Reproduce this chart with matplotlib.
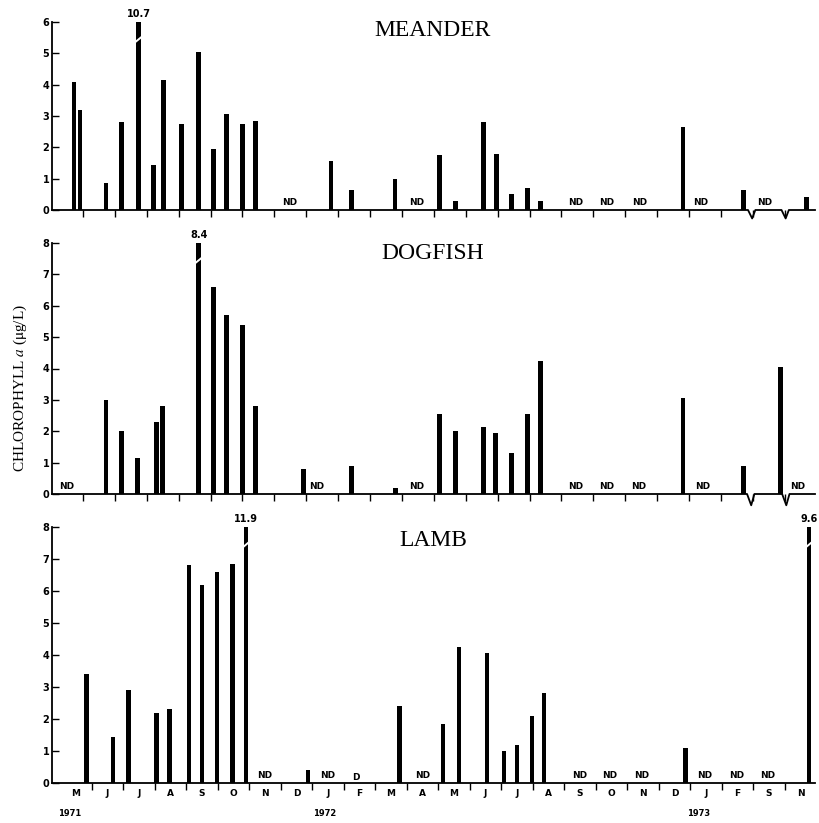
import matplotlib
matplotlib.use("Agg")
import matplotlib.pyplot as plt
from matplotlib import transforms

plt.rcParams["mathtext.fontset"] = "stix"

# ---------------- data (x in months from May 1971; values in ug/L) ----------------
meander_x = [0.72, 0.91, 1.72, 2.22, 2.75, 3.22, 3.53, 4.09, 4.63, 5.09, 5.50, 6.00, 6.41,
             8.78, 9.41, 10.78, 12.19, 12.69, 13.56, 13.97, 14.44, 14.94, 15.34, 19.81, 21.72, 23.69]
meander_y = [4.1, 3.2, 0.85, 2.8, 10.7, 1.45, 4.15, 2.75, 5.05, 1.95, 3.05, 2.75, 2.85,
             1.55, 0.65, 1.0, 1.75, 0.3, 2.8, 1.8, 0.5, 0.7, 0.3, 2.65, 0.65, 0.4]
meander_nd = [7.47, 11.47, 16.44, 17.41, 18.44, 20.38, 22.38]

dogfish_x = [1.72, 2.22, 2.72, 3.31, 3.50, 4.63, 5.09, 5.50, 6.00, 6.41, 7.91, 9.41, 10.81,
             12.19, 12.69, 13.56, 13.94, 14.44, 14.94, 15.34, 19.81, 21.72, 22.88]
dogfish_y = [3.0, 2.0, 1.15, 2.3, 2.8, 8.4, 6.6, 5.7, 5.4, 2.8, 0.8, 0.9, 0.2,
             2.55, 2.0, 2.15, 1.95, 1.3, 2.55, 4.25, 3.05, 0.9, 4.05]
dogfish_nd = [0.5, 8.34, 11.47, 16.44, 17.41, 18.41, 20.44, 23.40]

lamb_x = [0.84, 1.68, 2.16, 3.06, 3.46, 4.09, 4.50, 4.98, 5.48, 5.90, 7.87, 10.76,
          12.15, 12.66, 13.55, 14.09, 14.50, 14.98, 15.36, 19.86, 23.77]
lamb_y = [3.4, 1.45, 2.9, 2.2, 2.3, 6.8, 6.2, 6.6, 6.85, 11.9, 0.4, 2.4,
          1.85, 4.25, 4.05, 1.0, 1.2, 2.1, 2.8, 1.1, 9.6]
lamb_nd = [6.5, 8.5, 11.52, 16.5, 17.45, 18.46, 20.47, 21.48, 22.47]
lamb_d = [9.39]

month_labels = ["M", "J", "J", "A", "S", "O", "N", "D", "J", "F", "M", "A",
                "M", "J", "J", "A", "S", "O", "N", "D", "J", "F", "S", "N"]
year_labels = ["1971", "1972", "1973"]
year_pos = [0.31, 8.4, 20.28]

W, H = 820, 823
fig = plt.figure(figsize=(W / 100, H / 100), dpi=100)

SANS = "DejaVu Sans"
SERIF = "Liberation Serif"
BW = 0.15


def make_axes(px_bottom, px_top, xlim, ymax, xs, ys, nds, breaks, title, title_y,
              ds=(), px_left=52, px_right=815):
    ax = fig.add_axes([px_left / W, 1 - px_bottom / H, (px_right - px_left) / W,
                       (px_bottom - px_top) / H])
    ax.set_xlim(*xlim)
    ax.set_ylim(0, ymax)
    for s in ["top", "right", "bottom"]:
        ax.spines[s].set_visible(False)
    ax.spines["left"].set_linewidth(1.3)
    ax.spines["left"].set_color("black")
    # bars (clipped at top with break)
    for x, y in zip(xs, ys):
        h = min(y, ymax)
        ax.bar(x, h, width=BW, color="black", align="center", zorder=3)
        if y > ymax:
            ax.plot([x - 0.12, x + 0.12], [ymax - 0.65, ymax - 0.45], color="white",
                    lw=1.4, zorder=4, solid_capstyle="butt")
            ax.text(x, ymax + 0.08, f"{y:.1f}", ha="center", va="bottom",
                    fontsize=7, fontweight="bold", family=SANS, clip_on=False)
    # baseline with zigzag breaks
    bx = [xlim[0]]
    by = [0]
    for b in breaks:
        bx += [b - 0.08, b + 0.05, b + 0.15]
        by += [0, -ymax * 0.045, 0]
    bx.append(xlim[1])
    by.append(0)
    ax.plot(bx, by, color="black", lw=1.3, clip_on=False, zorder=2)
    for n in nds:
        ax.text(n, 0.08, "ND", ha="center", va="bottom", fontsize=6.5,
                fontweight="bold", family=SANS)
    for n in ds:
        ax.text(n, 0.03, "D", ha="center", va="bottom", fontsize=6.5,
                fontweight="bold", family=SANS)
    ax.set_xticks(range(1, 24))
    ax.set_xticklabels([])
    ax.tick_params(axis="x", direction="out", length=5, width=1.0, color="black")
    ax.set_yticks(range(0, ymax + 1))
    ax.set_yticklabels([str(v) for v in range(0, ymax + 1)], fontsize=7,
                       fontweight="bold", family=SANS)
    ax.tick_params(axis="y", direction="in", length=5, width=1.0, pad=2)
    ax.patch.set_alpha(0)
    fig.text(433 / W, 1 - title_y / H, title, ha="center", va="center",
             fontsize=17, family=SERIF)
    return ax


ax1 = make_axes(210, 22, (0.03, 23.95), 6, meander_x, meander_y, meander_nd,
                [21.93, 22.98], "MEANDER", 30)
ax2 = make_axes(494, 243, (0.03, 23.95), 8, dogfish_x, dogfish_y, dogfish_nd,
                [21.9, 23.0], "DOGFISH", 253)
ax3 = make_axes(783, 527, (-0.26, 23.96), 8, lamb_x, lamb_y, lamb_nd, [],
                "LAMB", 540, ds=lamb_d)

# month labels and years on bottom panel
trans = transforms.blended_transform_factory(ax3.transData, ax3.transAxes)
for i, lab in enumerate(month_labels):
    ax3.text(i + 0.5, -0.04, lab, transform=trans, ha="center", va="center",
             fontsize=6.5, fontweight="bold", family=SANS)
for lab, p in zip(year_labels, year_pos):
    ax3.text(p, -0.12, lab, transform=trans, ha="center", va="center",
             fontsize=6, fontweight="bold", family=SANS)

fig.text(20 / W, 1 - 388 / H, r"CHLOROPHYLL $\mathit{a}$ ($\mathrm{\mu}$g/L)",
         rotation=90, ha="center", va="center", fontsize=11, family=SERIF)

fig.savefig("out.png", dpi=100, facecolor="white")
